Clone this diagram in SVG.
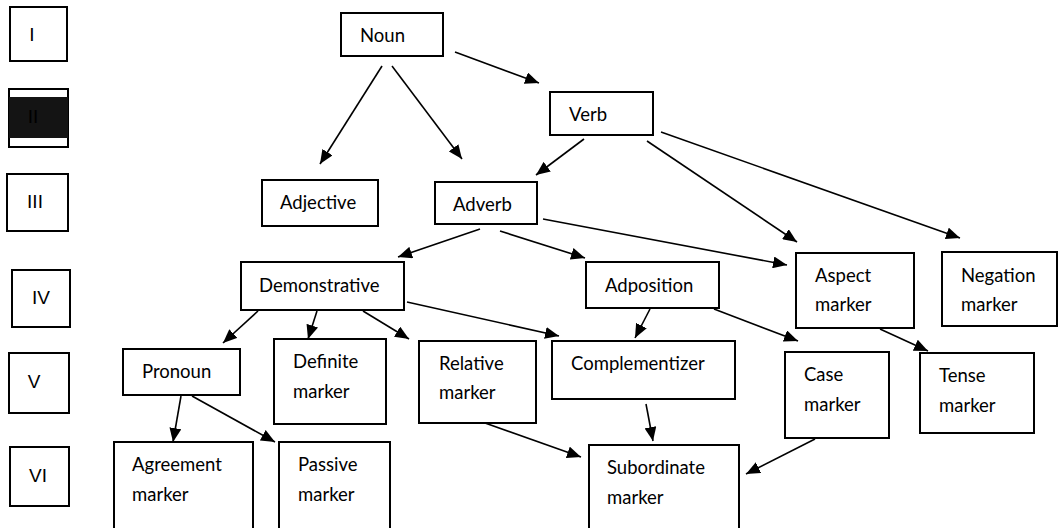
<svg xmlns="http://www.w3.org/2000/svg" width="1058" height="528" viewBox="0 0 1058 528">
<defs>
<marker id="ah" viewBox="0 0 14 12" markerWidth="14" markerHeight="12" refX="14" refY="6" orient="auto" markerUnits="userSpaceOnUse">
<path d="M0,0 L14,6 L0,12 z" fill="#000"/>
</marker>
</defs>
<style>
rect.b{fill:#fff;stroke:#000;stroke-width:2}
text{font-family:Lato,"Open Sans",sans-serif;font-size:18.5px;fill:#000}
text.r{font-family:"Liberation Sans",Arial,sans-serif;font-size:19px;text-anchor:middle}
#edges line{stroke:#000;stroke-width:1.6;marker-end:url(#ah)}
</style>
<rect width="1058" height="528" fill="#fff"/>
<g id="level-I"><rect class="b" x="10" y="7" width="57" height="54"/><text class="r" x="32" y="41">I</text></g>
<g id="level-II"><rect class="b" x="9" y="89" width="59" height="58"/><rect x="9" y="97" width="59" height="41" fill="#141414"/><text class="r" x="33" y="123" style="fill:#000">II</text></g>
<g id="level-III"><rect class="b" x="7" y="174" width="61" height="57"/><text class="r" x="35" y="208">III</text></g>
<g id="level-IV"><rect class="b" x="12" y="270" width="58" height="57"/><text class="r" x="41" y="304">IV</text></g>
<g id="level-V"><rect class="b" x="9" y="353" width="60" height="60"/><text class="r" x="34" y="388">V</text></g>
<g id="level-VI"><rect class="b" x="10" y="447" width="59" height="59"/><text class="r" x="38" y="482">VI</text></g>

<g id="noun"><rect class="b" x="341" y="13" width="102" height="43"/><text x="360" y="42">Noun</text></g>
<g id="verb"><rect class="b" x="550" y="92" width="103" height="43"/><text x="569" y="121">Verb</text></g>
<g id="adjective"><rect class="b" x="262" y="180" width="116" height="46"/><text x="280" y="209">Adjective</text></g>
<g id="adverb"><rect class="b" x="435" y="182" width="102" height="42"/><text x="453" y="211">Adverb</text></g>
<g id="demonstrative"><rect class="b" x="241" y="262" width="163" height="48"/><text x="259" y="292">Demonstrative</text></g>
<g id="adposition"><rect class="b" x="586" y="262" width="133" height="46"/><text x="605" y="292">Adposition</text></g>
<g id="aspect"><rect class="b" x="796" y="253" width="118" height="75"/><text x="815" y="282">Aspect</text><text x="815" y="311">marker</text></g>
<g id="negation"><rect class="b" x="942" y="252" width="115" height="74"/><text x="961" y="282">Negation</text><text x="961" y="311">marker</text></g>
<g id="pronoun"><rect class="b" x="123" y="349" width="117" height="46"/><text x="142" y="378">Pronoun</text></g>
<g id="definite"><rect class="b" x="274" y="339" width="112" height="85"/><text x="293" y="368">Definite</text><text x="293" y="398">marker</text></g>
<g id="relative"><rect class="b" x="419" y="341" width="117" height="82"/><text x="439" y="370">Relative</text><text x="439" y="399">marker</text></g>
<g id="complementizer"><rect class="b" x="552" y="341" width="183" height="58"/><text x="571" y="370">Complementizer</text></g>
<g id="case"><rect class="b" x="785" y="352" width="104" height="86"/><text x="804" y="381">Case</text><text x="804" y="411">marker</text></g>
<g id="tense"><rect class="b" x="920" y="353" width="114" height="80"/><text x="939" y="382">Tense</text><text x="939" y="412">marker</text></g>
<g id="agreement"><rect class="b" x="114" y="442" width="139" height="100"/><text x="132" y="471">Agreement</text><text x="132" y="501">marker</text></g>
<g id="passive"><rect class="b" x="279" y="442" width="111" height="100"/><text x="298" y="471">Passive</text><text x="298" y="501">marker</text></g>
<g id="subordinate"><rect class="b" x="589" y="445" width="150" height="100"/><text x="607" y="474">Subordinate</text><text x="607" y="504">marker</text></g>

<g id="edges">
<line x1="455" y1="52" x2="539" y2="83"/>
<line x1="382" y1="66" x2="320" y2="164"/>
<line x1="392" y1="66" x2="462" y2="159"/>
<line x1="584" y1="139" x2="536" y2="175"/>
<line x1="647" y1="141" x2="797" y2="242"/>
<line x1="661" y1="132" x2="960" y2="238"/>
<line x1="543" y1="219" x2="787" y2="265"/>
<line x1="480" y1="229" x2="398" y2="257"/>
<line x1="500" y1="231" x2="585" y2="258"/>
<line x1="258" y1="311" x2="223" y2="343"/>
<line x1="317" y1="311" x2="308" y2="339"/>
<line x1="363" y1="311" x2="409" y2="339"/>
<line x1="407" y1="302" x2="559" y2="336"/>
<line x1="181" y1="396" x2="173" y2="442"/>
<line x1="192" y1="396" x2="275" y2="442"/>
<line x1="485" y1="423" x2="581" y2="457"/>
<line x1="650" y1="309" x2="635" y2="338"/>
<line x1="714" y1="309" x2="798" y2="341"/>
<line x1="880" y1="329" x2="928" y2="351"/>
<line x1="646" y1="404" x2="653" y2="441"/>
<line x1="815" y1="439" x2="746" y2="474"/>
</g>
</svg>
